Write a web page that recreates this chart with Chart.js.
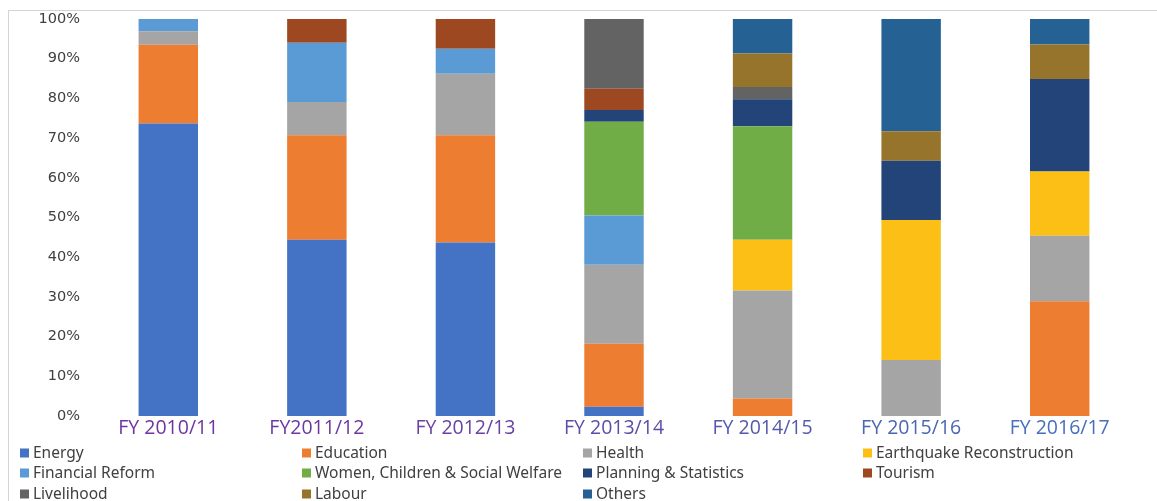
<!DOCTYPE html>
<html>
<head>
<meta charset="utf-8">
<script src="https://cdn.jsdelivr.net/npm/chart.js@4"></script>
<style>
  html, body { margin: 0; padding: 0; background: #fff; }
  #wrap { position: relative; width: 1157px; height: 501px; overflow: hidden; }
  #frame { position: absolute; left: 8px; top: 10px; width: 1200px; height: 600px;
           border-top: 1px solid #d4d4d4; border-left: 1px solid #d4d4d4; }
  canvas { position: absolute; left: 0; top: 0; }
</style>
</head>
<body>
<div id="wrap">
  <div id="frame"></div>
  <canvas id="myCanvas" width="1157" height="501"></canvas>
</div>
<script>
// share of budget by sector, percent of each fiscal year
const years = ['FY 2010/11', 'FY2011/12', 'FY 2012/13', 'FY 2013/14', 'FY 2014/15', 'FY 2015/16', 'FY 2016/17'];
const yearColors = ['#7034a2', '#6e38a2', '#6942a3', '#5c4ea6', '#5559ab', '#4b67b4', '#476fbc'];

const energy       = [73.7, 44.4, 43.7, 2.3, 0, 0, 0];
const education    = [19.8, 26.3, 27.0, 15.9, 4.4, 0, 28.9];
const health       = [3.4, 8.4, 15.5, 19.9, 27.2, 14.1, 16.5];
const earthquake   = [0, 0, 0, 0, 12.8, 35.3, 16.2];
const financial    = [3.1, 14.9, 6.3, 12.4, 0, 0, 0];
const women        = [0, 0, 0, 23.6, 28.6, 0, 0];
const planning     = [0, 0, 0, 3.0, 6.8, 14.9, 23.3];
const tourism      = [0, 6.0, 7.5, 5.3, 0, 0, 0];
const livelihood   = [0, 0, 0, 17.6, 3.1, 0, 0];
const labour       = [0, 0, 0, 0, 8.4, 7.4, 8.7];
const others       = [0, 0, 0, 0, 8.7, 28.3, 6.4];

const yTicks = [0, 10, 20, 30, 40, 50, 60, 70, 80, 90, 100];

const series = [
  ['Energy', energy, '#4472c4'],
  ['Education', education, '#ed7d31'],
  ['Health', health, '#a5a5a5'],
  ['Earthquake Reconstruction', earthquake, '#fbbf16'],
  ['Financial Reform', financial, '#5b9bd5'],
  ['Women, Children & Social Welfare', women, '#70ad47'],
  ['Planning & Statistics', planning, '#224479'],
  ['Tourism', tourism, '#9e4821'],
  ['Livelihood', livelihood, '#636363'],
  ['Labour', labour, '#97742b'],
  ['Others', others, '#256193'],
];

// legend in 4 columns, row by row like the office chart
const legendCols = [20, 302, 583, 863];
const legendRows = [453, 473, 494];

const gridLegend = {
  id: 'gridLegend',
  afterDraw(chart) {
    const ctx = chart.ctx;
    ctx.save();
    ctx.font = '15.5px "Noto Sans"';
    ctx.textBaseline = 'middle';
    chart.data.datasets.forEach((ds, i) => {
      const x = legendCols[i % 4];
      const y = legendRows[Math.floor(i / 4)];
      ctx.fillStyle = ds.backgroundColor;
      ctx.fillRect(x, y - 4.5, 9, 9);
      ctx.fillStyle = '#404040';
      ctx.fillText(ds.label, x + 13, y + 1);
    });
    ctx.restore();
  }
};

const graph = new Chart(document.getElementById('myCanvas'), {
  type: 'bar',
  data: {
    labels: years,
    datasets: series.map((s) => ({
      label: s[0],
      data: s[1],
      backgroundColor: s[2],
      borderWidth: 0,
      categoryPercentage: 1,
      barPercentage: 0.4,
    })),
  },
  options: {
    responsive: false,
    animation: false,
    layout: { padding: { top: 19, right: 23, left: 0, bottom: 0 } },
    plugins: { legend: { display: false }, tooltip: { enabled: false } },
    scales: {
      x: {
        stacked: true,
        grid: { display: false, drawTicks: false },
        border: { display: false },
        ticks: {
          color: yearColors,
          font: { family: '"Open Sans"', size: 19.5 },
          padding: 1,
          maxRotation: 0,
        },
        afterFit: (scale) => {
          scale.height = 85;
          scale.paddingLeft = 0;
          scale.paddingRight = 0;
        },
      },
      y: {
        stacked: true,
        min: 0,
        max: 100,
        grid: { display: false, drawTicks: false },
        border: { display: false },
        afterBuildTicks: (scale) => { scale.ticks = yTicks.map((v) => ({ value: v })); },
        ticks: {
          color: '#404040',
          font: { family: '"DejaVu Sans"', size: 14.5 },
          padding: 14,
          callback: (v) => v + '%',
        },
        afterFit: (scale) => {
          scale.width = 94;
          scale.paddingTop = 0;
          scale.paddingBottom = 0;
        },
      },
    },
  },
  plugins: [gridLegend],
});
</script>
</body>
</html>
